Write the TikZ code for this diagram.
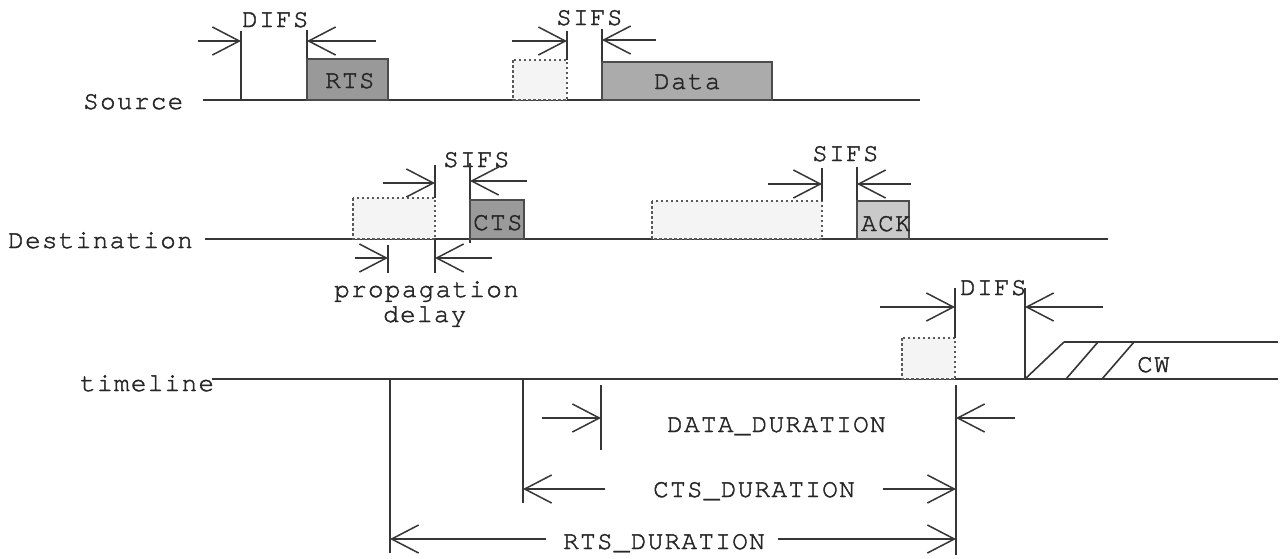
\documentclass[tikz,border=0pt]{standalone}
\usepackage{fontspec}
\usetikzlibrary{arrows.meta}
\newfontfamily\cour{TeX Gyre Cursor}[LetterSpace=5,FakeBold=1.6]
\definecolor{linec}{HTML}{363636}
\definecolor{rtsfill}{HTML}{999999}
\definecolor{datafill}{HTML}{ABABAB}
\definecolor{ctsfill}{HTML}{9A9A9A}
\definecolor{ackfill}{HTML}{C9C9C9}
\definecolor{ghostfill}{HTML}{F4F4F4}
\tikzset{
  ln/.style={draw=linec, line width=1.6pt},
  arr/.style={draw=linec, line width=1.5pt, -{Straight Barb[length=27pt,width=28pt]}},
  frame/.style={draw=black!70, line width=1.8pt},
  ghost/.style={draw=black!65, line width=1.4pt, dash pattern=on 2.5pt off 2.5pt, fill=ghostfill},
  lbl/.style={inner sep=0pt, anchor=base west, font=\cour\fontsize{26}{28}\selectfont, text=black!85},
}
\begin{document}
\begin{tikzpicture}[x=1pt, y=-1pt]
\useasboundingbox[fill=white] (0,0) rectangle (1287,558);

% ---------------- Source row ----------------
\node[lbl] (srcl) at (83,109) {Source};
\draw[ln] (203,100) -- (920,100);
\draw[ln] (241,31) -- (241,100);
\draw[ln] (307,30) -- (307,100);
\draw[arr] (198,41) -- (241,41);
\draw[arr] (376,41) -- (307,41);
\node[lbl] (difs1) at (242,27) {DIFS};
\draw[frame, fill=rtsfill] (307,59) rectangle (388,100);
\node[lbl] (rts) at (325,88) {RTS};
\draw[ghost] (513,60) rectangle (567,100);
\draw[ln] (567,31) -- (567,60);
\draw[arr] (512,41) -- (567,41);
\node[lbl] (sifs1) at (556,25) {SIFS};
\draw[ln] (602,29) -- (602,100);
\draw[arr] (656,40) -- (602,40);
\draw[frame, fill=datafill] (602,62) rectangle (772,100);
\node[lbl] (data) at (654,89) {Data};

% ---------------- Destination row ----------------
\node[lbl] (dstl) at (8,248) {Destination};
\draw[ln] (205,239) -- (1108,239);
\draw[ghost] (353,198) rectangle (435,239);
\draw[ln] (435,165) -- (435,198);
\draw[arr] (383,183) -- (435,183);
\node[lbl] (sifs2) at (443,167) {SIFS};
\draw[ln] (470,163) -- (470,243);
\draw[arr] (527,181) -- (470,181);
\draw[frame, fill=ctsfill] (470,200) rectangle (524,239);
\node[lbl] (cts) at (473,230) {CTS};
% propagation delay
\draw[ln] (388,245) -- (388,273);
\draw[ln] (435,239) -- (435,273);
\draw[arr] (355,258) -- (388,258);
\draw[arr] (492,258) -- (435,258);
\node[lbl] (prop) at (334,297) {propagation};
\node[lbl] (delay) at (383,322) {delay};
% ACK part
\draw[ghost] (652,201) rectangle (822,239);
\draw[ln] (822,168) -- (822,201);
\draw[arr] (768,184) -- (822,184);
\node[lbl] (sifs3) at (812,161) {SIFS};
\draw[ln] (857,167) -- (857,239);
\draw[arr] (911,184) -- (857,184);
\draw[frame, fill=ackfill] (857,201) rectangle (909,239);
\node[lbl] (ack) at (861,231) {ACK};

% ---------------- Timeline row ----------------
\node[lbl] (tl) at (80,391) {timeline};
\draw[ln] (212,379) -- (1278,379);
\draw[ghost] (902,338) rectangle (955,379);
\draw[ln] (955,288) -- (955,338);
\draw[arr] (880,307) -- (955,307);
\node[lbl] (difs2) at (960,295) {DIFS};
\draw[ln] (1025,288) -- (1025,379);
\draw[arr] (1103,307) -- (1025,307);
% contention window
\draw[ln] (1064,342) -- (1278,342);
\draw[ln] (1025,379) -- (1064,342);
\draw[ln] (1066,379) -- (1098,342);
\draw[ln] (1102,379) -- (1134,342);
\node[lbl] (cw) at (1137,372) {CW};

% ---------------- Durations ----------------
\draw[ln] (956,385) -- (956,555);
\draw[ln] (601,385) -- (601,450);
\draw[ln] (523,379) -- (523,503);
\draw[ln] (390,379) -- (390,553);
\draw[arr] (542,418) -- (601,418);
\draw[arr] (1015,418) -- (956,418);
\node[lbl] (dd) at (667,432) {DATA\_DURATION};
\draw[arr] (605,489) -- (523,489);
\draw[arr] (883,489) -- (956,489);
\node[lbl] (cd) at (653,497) {CTS\_DURATION};
\draw[arr] (546,539) -- (390,539);
\draw[arr] (778,539) -- (956,539);
\node[lbl] (rd) at (563,549) {RTS\_DURATION};
\end{tikzpicture}
\end{document}
